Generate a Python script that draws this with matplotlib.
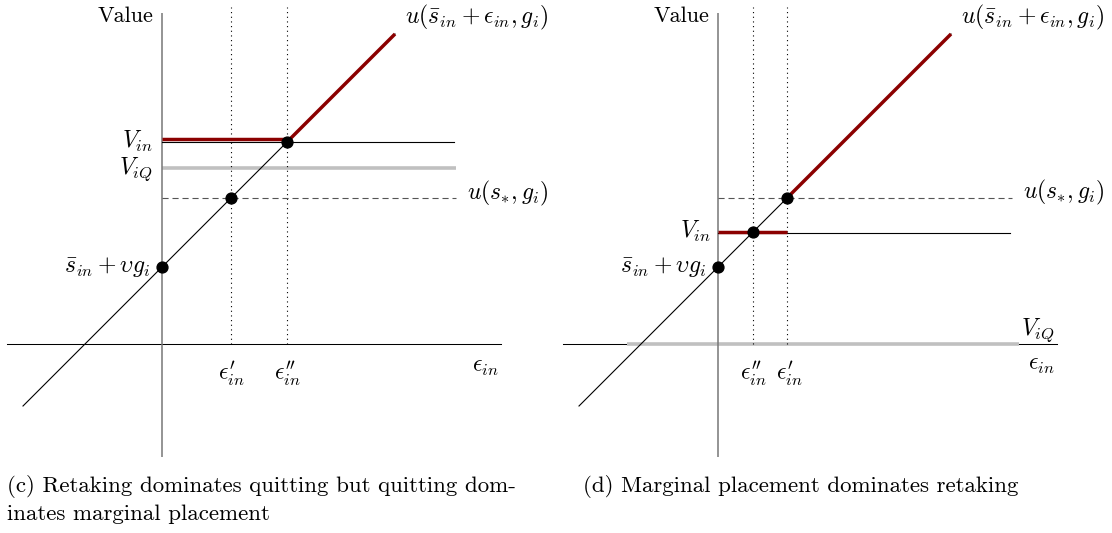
import matplotlib
matplotlib.use("Agg")
import matplotlib.pyplot as plt

plt.rcParams['mathtext.fontset'] = 'cm'
plt.rcParams['font.family'] = ['cmr10', 'DejaVu Serif']

FIG_W, FIG_H = 1112, 533
DPI = 100

# shared geometry of the diagrams (value units)
line_x = [-13.9, 23.3]          # extent of u(s_bar + eps, g)
intercept = 7.7                  # s_bar_in + upsilon g_i
x_axis_span = [-15.5, 33.9]
y_axis_span = [-11.3, 33.1]
guide_top = 33.7
hline_end = 29.3

# panel (c): retaking dominates quitting, quitting dominates marginal placement
c_eps_prime = 6.9
c_eps_dprime = 12.5
c_V_in = 20.2
c_V_iQ = 17.6
c_u_star = 14.6
c_caption = ["(c) Retaking dominates quitting but quitting dom-",
             "inates marginal placement"]

# panel (d): marginal placement dominates retaking
d_eps_dprime = 3.5
d_eps_prime = 6.9
d_V_in = 11.1
d_V_iQ = 0.0
d_u_star = 14.6
d_caption = ["(d) Marginal placement dominates retaking"]

RED = '#8b0000'
AXIS_GREY = '#777777'
LIGHT_GREY = '#c0c0c0'
DASH_GREY = '#555555'
FS = 16      # plain text
MFS = 17     # math labels

EPS1 = r'$\epsilon_{in}^{\prime}$'
EPS2 = r'$\epsilon_{in}^{\prime\prime}$'


def u(x):
    return intercept + x


fig = plt.figure(figsize=(FIG_W / DPI, FIG_H / DPI), dpi=DPI)


def make_axes(x0_px, origin_px):
    # 10 pixels per value unit in both directions; origin at (origin_px, 344)
    ax = fig.add_axes([x0_px / FIG_W, (FIG_H - 460) / FIG_H, 556 / FIG_W, 460 / FIG_H])
    ax.set_xlim((x0_px - origin_px) / 10, (x0_px + 556 - origin_px) / 10)
    ax.set_ylim((344 - 460) / 10, 344 / 10)
    ax.set_axis_off()
    return ax


def draw_common(ax, u_star, V_in, red_from, red_offset, eps_a, eps_b):
    # axes
    ax.plot([0, 0], y_axis_span, color=AXIS_GREY, lw=1.1, zorder=2, solid_capstyle='butt')
    ax.plot(x_axis_span, [0, 0], color='black', lw=0.75, zorder=1)
    # dotted guides
    for e in (eps_a, eps_b):
        ax.plot([e, e], [0, guide_top], color='black', lw=0.8, ls=(0, (1, 3.2)), zorder=2)
    # dashed u(s*, g)
    ax.plot([0, hline_end + 0.1], [u_star, u_star], color=DASH_GREY, lw=0.8,
            ls=(0, (5.5, 3.5)), zorder=2)
    # V_in line and its red (chosen) part
    ax.plot([0, hline_end - 0.1], [V_in, V_in], color='black', lw=0.8, zorder=3)
    ax.plot([0, red_from], [V_in + red_offset, V_in + red_offset], color=RED, lw=2.5,
            zorder=4, solid_capstyle='butt')
    # utility line, red above the switching point
    ax.plot(line_x, [u(v) for v in line_x], color='black', lw=0.8, zorder=5)
    ax.plot([red_from, line_x[1]], [u(red_from), u(line_x[1])], color=RED, lw=2.5,
            zorder=6, solid_capstyle='butt')


def text_labels(ax, vin_x, vin_y):
    ax.text(-0.9, 32.8, 'Value', ha='right', va='center', fontsize=FS)
    ax.text(vin_x, vin_y, r'$V_{in}$', ha='right', va='center', fontsize=MFS)
    ax.text(-1.1, intercept, r'$\bar{s}_{in}+\upsilon g_i$', ha='right', va='center', fontsize=MFS)
    ax.text(24.3, 32.7, r'$u(\bar{s}_{in}+\epsilon_{in},g_i)$', ha='left', va='center', fontsize=MFS)


# ---- panel (c)
axc = make_axes(0, 162)
draw_common(axc, c_u_star, c_V_in, c_eps_dprime, 0.3, c_eps_prime, c_eps_dprime)
axc.plot([0, hline_end + 0.1], [c_V_iQ, c_V_iQ], color=LIGHT_GREY, lw=2.6, zorder=1,
         solid_capstyle='butt')
axc.plot([0, c_eps_prime, c_eps_dprime], [u(0), u(c_eps_prime), u(c_eps_dprime)],
         'o', color='black', ms=7.8, zorder=7)
text_labels(axc, -0.9, 20.3)
axc.text(-0.9, 17.5, r'$V_{iQ}$', ha='right', va='center', fontsize=MFS)
axc.text(30.5, 15.1, r'$u(s_{*},g_i)$', ha='left', va='center', fontsize=MFS)
axc.text(c_eps_prime, -3.0, EPS1, ha='center', va='center', fontsize=MFS)
axc.text(c_eps_dprime, -3.0, EPS2, ha='center', va='center', fontsize=MFS)
axc.text(31.0, -2.3, r'$\epsilon_{in}$', ha='left', va='center', fontsize=MFS)

# ---- panel (d)
axd = make_axes(556, 718)
draw_common(axd, d_u_star, d_V_in, d_eps_prime, 0.15, d_eps_dprime, d_eps_prime)
axd.plot([-9.1, 30.1], [d_V_iQ, d_V_iQ], color=LIGHT_GREY, lw=2.6, zorder=1.5,
         solid_capstyle='butt')
axd.plot([0, d_eps_dprime, d_eps_prime], [u(0), u(d_eps_dprime), u(d_eps_prime)],
         'o', color='black', ms=7.8, zorder=7)
text_labels(axd, -0.7, 11.3)
axd.text(30.5, 15.2, r'$u(s_{*},g_i)$', ha='left', va='center', fontsize=MFS)
axd.text(30.3, 1.4, r'$V_{iQ}$', ha='left', va='center', fontsize=MFS)
axd.text(d_eps_dprime, -3.0, EPS2, ha='center', va='center', fontsize=MFS)
axd.text(d_eps_prime + 0.2, -3.0, EPS1, ha='center', va='center', fontsize=MFS)
axd.text(31.0, -2.1, r'$\epsilon_{in}$', ha='left', va='center', fontsize=MFS)

# ---- captions
CAP_FS = 16.5
for i, line in enumerate(c_caption):
    fig.text(7 / FIG_W, 1 - (486 + 28.5 * i) / FIG_H, line, ha='left', va='center', fontsize=CAP_FS)
for i, line in enumerate(d_caption):
    fig.text(583 / FIG_W, 1 - (486 + 28.5 * i) / FIG_H, line, ha='left', va='center', fontsize=CAP_FS)

fig.savefig('out.png', dpi=DPI)
